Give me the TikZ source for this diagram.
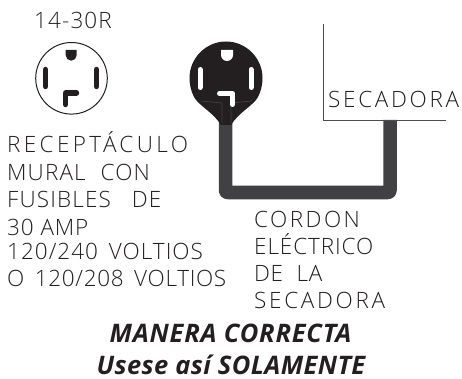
\documentclass[tikz,border=0pt]{standalone}
\usepackage{fontspec}
\setmainfont{Open Sans}
\newfontfamily\lt{Open Sans Light}
\newcommand{\ls}[1]{\addfontfeature{LetterSpace=#1}}
\definecolor{ink}{HTML}{231F20}
\definecolor{cable}{HTML}{414042}
\tikzset{
 lbl/.style={anchor=base west,inner sep=0,text=ink,font=\fontsize{22.5}{22.5}\selectfont\lt},
 ttl/.style={anchor=base,inner sep=0,text=ink,font=\fontsize{25.5}{25.5}\selectfont\bfseries\itshape},
 slot/.style={line width=5.4pt,line cap=round,line join=round,draw=ink},
 wslot/.style={line width=5pt,line cap=round,line join=round,draw=white},
}
\begin{document}
\begin{tikzpicture}[x=1pt,y=-1pt]
\useasboundingbox (0,0) rectangle (462,379);
% receptacle
\draw[ink,line width=1pt] (71.5,78.3) circle (35.8);
\fill[ink] (65.7,50) -- (76.7,50) -- (76.7,55.2) arc (0:180:5.5) -- cycle;
\draw[slot] (45.5,69.5) -- (45.5,86.5);
\draw[slot] (96.5,69.5) -- (96.5,86.5);
\draw[slot] (65.5,104.5) -- (65.5,93) -- (76.5,93);
\node[lbl] (t1) at (34,29) {\ls{5}14-30R};
% plug + cable
\draw[cable,line width=13.5pt,line join=round,rounded corners=2pt] (225.5,115) -- (225.5,192.5) -- (390,192.5) -- (390,120);
\fill[ink] (226,125) -- (221,125) .. controls (213,112) and (199,106) .. (194,97) .. controls (191,91) and (189.5,85) .. (189.5,78) .. controls (189.5,58) and (206,41.5) .. (226,41.5) .. controls (246,41.5) and (262.5,58) .. (262.5,78) .. controls (262.5,85) and (261,91) .. (258,97) .. controls (253,106) and (239,112) .. (231,125) -- cycle;
\draw[cable,line width=.7pt] (201,101) -- (222,103) -- (222,123);
\draw[cable,line width=.7pt] (252,101) -- (231,103) -- (231,123);
\draw[wslot] (200,69.5) -- (200,87.5);
\draw[wslot] (251,69.5) -- (251,87.5);
\draw[wslot] (219.5,93.5) -- (232.5,93.5) -- (232.5,104.5);
\fill[white] (221,50) -- (233,50) -- (233,55) arc (0:180:6) -- cycle;
% dryer
\draw[ink!80,line width=.8pt] (323.5,24) -- (323.5,120) -- (446,120);
\node[lbl] (t2) at (328,108) {\ls{12}SECADORA};
% left label
\node[lbl] (a1) at (7,153) {\ls{15}RECEPTÁCULO};
\node[lbl] (a2) at (7,181) {\ls{5}MURAL\hspace{8pt} CON};
\node[lbl] (a3) at (7,207.7) {\ls{5}FUSIBLES\hspace{14pt} DE};
\node[lbl] (a4) at (7,235) {\ls{4}30 AMP};
\node[lbl] (a5) at (7,259.5) {\ls{4.5}120/240\hspace{4pt} VOLTIOS};
\node[lbl] (a6) at (7,286.7) {\ls{3}O\hspace{4pt} 120/208\hspace{4pt} VOLTIOS};
% right label
\node[lbl] (b1) at (254,227.7) {\ls{11}CORDON};
\node[lbl] (b2) at (254,254.3) {\ls{4}ELÉCTRICO};
\node[lbl] (b3) at (254,281) {\ls{3}DE\hspace{7pt} LA};
\node[lbl] (b4) at (254,308) {\ls{12}SECADORA};
% titles
\node[ttl] (c1) at (230.5,342.7) {\ls{3}MANERA CORRECTA};
\node[ttl] (c2) at (231,374) {\ls{1.5}Usese así SOLAMENTE};
\end{tikzpicture}
\end{document}
